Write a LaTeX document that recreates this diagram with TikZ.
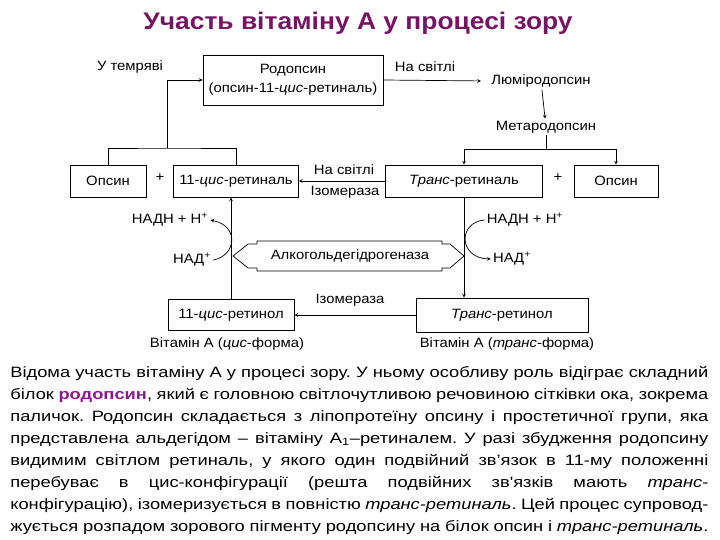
\documentclass[tikz,border=0pt]{standalone}
\usepackage{fontspec}
\setmainfont{Liberation Sans}
\newfontfamily\diagfont[FakeStretch=1.1]{Liberation Sans}
\newfontfamily\parafont[FakeStretch=1.22]{Liberation Sans}
\usetikzlibrary{arrows}

\definecolor{titlepurple}{RGB}{118,20,100}
\definecolor{keypurple}{RGB}{140,25,140}

% one fully justified line of the paragraph
\newcommand{\jl}[1]{\hbox to\hsize{\spaceskip=.25em plus 1fil minus .1em #1}\par}

\begin{document}
\begin{tikzpicture}[
            x = 1pt, y = -1pt, % pixel grid of the picture
            > = stealth, % arrow head style
            line width = 0.7pt,
            every node/.style = {font=\diagfont\fontsize{13.5}{17}\selectfont},
            bx/.style = {draw, minimum height=32pt, inner sep=2pt}, % boxes
            lbl/.style = {inner sep=2pt} % free labels
        ]
    \useasboundingbox (0,0) rectangle (720,540);

    \node (title) at (358,23) {\fontsize{24}{28}\selectfont\bfseries\color{titlepurple}Участь вітаміну А у процесі зору};

    % top row
    \node[bx, minimum width=180pt, minimum height=50pt, align=center] (rhod) at (293,80) {Родопсин\\[2pt](опсин-11-\emph{цис}-ретиналь)};
    \node[lbl] (dark) at (130,67) {У темряві};
    \node[lbl] (light) at (425,67) {На світлі};
    \node[lbl] (lumi) at (541,81) {Люміродопсин};
    \node[lbl] (meta) at (546,127) {Метародопсин};

    % middle row
    \node[bx, minimum width=76pt] (opsL) at (108,181) {Опсин};
    \node[lbl] (plusL) at (160,178) {+};
    \node[bx, minimum width=125pt] (retc) at (236,181) {11-\emph{цис}-ретиналь};
    \node[bx, minimum width=157pt] (rett) at (464,181) {\emph{Транс}-ретиналь};
    \node[lbl] (plusR) at (558,178) {+};
    \node[bx, minimum width=84pt] (opsR) at (616,181) {Опсин};
    \node[lbl] (light2) at (344,170) {На світлі};
    \node[lbl] (isom1) at (345,192) {Ізомераза};

    % cofactors and enzyme
    \node[lbl] (nadhL) at (170,220) {НАДН + Н\textsuperscript{+}};
    \node[lbl] (nadL) at (192,260) {НАД\textsuperscript{+}};
    \node[lbl] (nadhR) at (525,220) {НАДН + Н\textsuperscript{+}};
    \node[lbl] (nadR) at (512,259) {НАД\textsuperscript{+}};
    \node[lbl] (adh) at (350,256) {Алкогольдегідрогеназа};

    % bottom row
    \node[bx, minimum width=126pt, minimum height=31pt] (retolc) at (231,315) {11-\emph{цис}-ретинол};
    \node[bx, minimum width=172pt, minimum height=34pt] (retolt) at (502,315) {\emph{Транс}-ретинол};
    \node[lbl] (vitc) at (227,344) {Вітамін А (\emph{цис}-форма)};
    \node[lbl] (vitt) at (507,344) {Вітамін А (\emph{транс}-форма)};
    \node[lbl] (isom2) at (350,300) {Ізомераза};

    \coordinate (jl) at (167,148);
    \coordinate (jr) at (546,149);

    % cycle
    \draw (opsL.north) |- (jl) -| (retc.north);
    \draw[->] (jl) |- (rhod.west);
    \draw[->, shorten >=8pt] (rhod.east) -- (lumi.west);
    \draw[->] (lumi) -- (meta);
    \draw (meta) -- (jr);
    \draw[->] (jr) -| (rett.north);
    \draw[->] (jr) -| (opsR.north);
    \draw[->] (rett.west) -- (retc.east);
    \draw[->] (rett.south) -- (rett.south |- retolt.north);
    \draw[->] (retolt.west) -- (retolc.east);
    \draw[->] (retolc.north) -- (retolc.north |- retc.south);

    % cofactor curves
    \draw[->] (nadL.east) .. controls (236,256) and (240,226) .. (nadhL.east);
    \draw[->] (nadhR.west) .. controls (458,222) and (458,258) .. (nadR.west);

    % hollow double arrow of the enzyme
    \draw (233,256) -- (248,244) -- (257,244) -- (257,241) -- (442,241) -- (442,244)
        -- (450,244) -- (464,256) -- (450,268) -- (442,268) -- (442,271)
        -- (257,271) -- (257,268) -- (248,268) -- cycle;

    % text below
    \node[anchor=base west, inner sep=0pt, text width=698pt, font=\parafont\fontsize{15}{22}\selectfont\frenchspacing] (txt) at (10,377) {%
        \jl{Відома участь вітаміну А у процесі зору. У ньому особливу роль відіграє складний}%
        \jl{білок {\bfseries\color{keypurple}родопсин}, який є головною світлочутливою речовиною сітківки ока, зокрема}%
        \jl{паличок. Родопсин складається з ліпопротеїну опсину і простетичної групи, яка}%
        \jl{представлена альдегідом – вітаміну А\textsubscript{1}–ретиналем. У разі збудження родопсину}%
        \jl{видимим світлом ретиналь, у якого один подвійний зв’язок в 11-му положенні}%
        \jl{перебуває в цис-конфігурації (решта подвійних зв'язків мають \emph{транс}-}%
        \jl{конфігурацію), ізомеризується в повністю \emph{транс-ретиналь}. Цей процес супровод-}%
        \jl{жується розпадом зорового пігменту родопсину на білок опсин і \emph{транс-ретиналь}.}};
\end{tikzpicture}
\end{document}
